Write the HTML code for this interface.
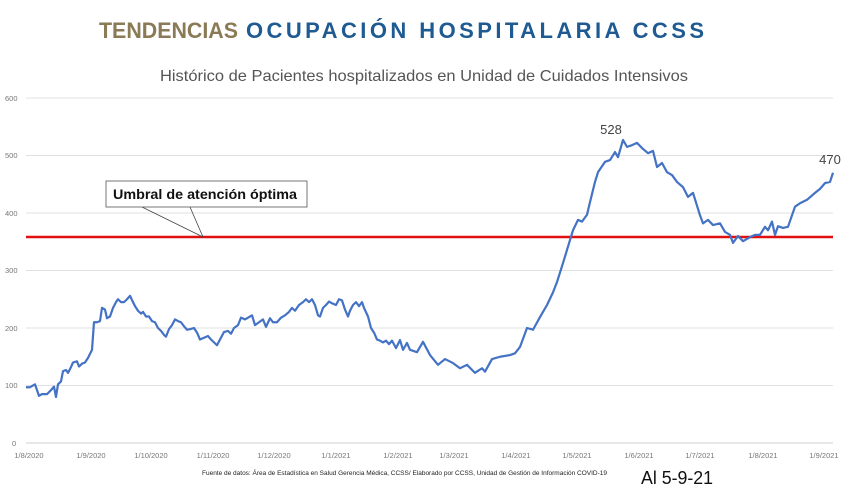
<!DOCTYPE html>
<html><head><meta charset="utf-8"><style>
html,body{margin:0;padding:0;background:#fff;}
svg{display:block;font-family:"Liberation Sans",sans-serif;}
</style></head><body>
<svg width="865" height="487" viewBox="0 0 865 487" xmlns="http://www.w3.org/2000/svg">
<rect width="865" height="487" fill="#fff"/>
<text x="99" y="38" font-size="22" font-weight="bold" fill="#8a7a55" textLength="139" lengthAdjust="spacingAndGlyphs">TENDENCIAS</text>
<text x="246" y="38" font-size="22" font-weight="bold" fill="#1f5a92" textLength="458" lengthAdjust="spacing">OCUPACIÓN HOSPITALARIA CCSS</text>
<text x="160" y="81" font-size="16" fill="#555" textLength="528" lengthAdjust="spacingAndGlyphs">Histórico de Pacientes hospitalizados en Unidad de Cuidados Intensivos</text>
<g stroke="#e0e0e0" stroke-width="1">
<line x1="26" y1="98" x2="833" y2="98"/>
<line x1="26" y1="155.5" x2="833" y2="155.5"/>
<line x1="26" y1="213" x2="833" y2="213"/>
<line x1="26" y1="270.5" x2="833" y2="270.5"/>
<line x1="26" y1="328" x2="833" y2="328"/>
<line x1="26" y1="385.5" x2="833" y2="385.5"/>
<line x1="26" y1="443" x2="833" y2="443" stroke="#d0d0d0"/>
</g>
<g font-size="7.5" fill="#777">
<text x="5" y="101">600</text><text x="5" y="158">500</text><text x="5" y="216">400</text>
<text x="5" y="273">300</text><text x="5" y="331">200</text><text x="5" y="388">100</text><text x="12" y="446">0</text>
</g>
<g font-size="7.5" fill="#777" text-anchor="middle">
<text x="29" y="458">1/8/2020</text><text x="91" y="458">1/9/2020</text><text x="151" y="458">1/10/2020</text>
<text x="213" y="458">1/11/2020</text><text x="274" y="458">1/12/2020</text><text x="336" y="458">1/1/2021</text>
<text x="398" y="458">1/2/2021</text><text x="454" y="458">1/3/2021</text><text x="516" y="458">1/4/2021</text>
<text x="577" y="458">1/5/2021</text><text x="639" y="458">1/6/2021</text><text x="700" y="458">1/7/2021</text>
<text x="763" y="458">1/8/2021</text><text x="824" y="458">1/9/2021</text>
</g>
<line x1="26" y1="237" x2="833" y2="237" stroke="#e01010" stroke-width="2.5"/>
<g transform="translate(0,443) scale(1,-0.575)">
<polyline fill="none" stroke="#4472c4" stroke-width="2.2" vector-effect="non-scaling-stroke" stroke-linejoin="round" points="26,97 30,97 35,102 39,82 42,85 47,85 51,92 54,98 56,80 58,102 61,107 63,125 66,127 68,122 71,132 73,140 77,142 79,133 82,138 85,140 88,148 90,155 92,162 94,210 97,210 100,212 102,235 105,232 107,217 110,220 113,235 116,245 118,250 121,245 124,245 127,250 130,256 133,245 135,238 138,230 141,225 143,228 146,220 149,220 152,212 155,210 158,200 161,195 164,188 166,185 169,198 172,205 175,215 178,212 181,210 184,203 187,197 190,198 194,200 197,192 200,180 204,183 208,186 211,180 214,175 217,170 220,180 224,193 228,195 231,190 234,200 238,205 241,218 245,215 248,218 252,222 255,205 259,210 263,215 266,202 270,217 273,210 277,210 281,218 285,222 289,228 292,235 295,230 299,240 303,245 306,250 309,245 312,250 315,240 318,222 320,220 323,235 326,240 329,246 332,243 336,240 339,250 342,248 345,232 348,220 350,230 353,240 356,245 359,238 362,245 364,235 368,220 371,200 374,192 377,180 380,178 383,175 386,178 389,172 392,178 396,165 400,179 403,162 407,174 410,162 417,158 423,176 430,153 438,136 445,146 453,139 460,130 467,136 475,122 482,130 485,124 492,146 500,150 510,153 515,156 520,167 527,200 533,197 540,219 547,240 553,262 557,280 563,313 570,353 573,370 578,388 582,385 587,397 590,419 595,454 598,471 605,489 610,492 615,506 618,497 623,527 627,515 632,518 637,522 642,513 648,504 653,508 657,480 662,487 667,471 672,466 677,454 683,445 688,428 693,435 700,396 703,382 708,388 713,379 720,382 725,367 730,362 733,348 738,360 743,351 750,358 755,362 760,362 765,376 768,370 772,385 775,362 778,377 783,374 788,376 795,411 800,417 807,423 815,435 820,442 825,452 830,454 833,470"/>
</g>
<text x="611" y="134" font-size="13" fill="#444" text-anchor="middle">528</text>
<text x="830" y="164" font-size="13" fill="#444" text-anchor="middle">470</text>
<line x1="142" y1="207" x2="203" y2="237" stroke="#444" stroke-width="0.8"/>
<line x1="190" y1="207" x2="203" y2="237" stroke="#444" stroke-width="0.8"/>
<rect x="106" y="181" width="201" height="26" fill="#fff" stroke="#555" stroke-width="0.8"/>
<text x="113" y="199" font-size="14" font-weight="bold" fill="#111" textLength="184" lengthAdjust="spacingAndGlyphs">Umbral de atención óptima</text>
<text x="202" y="475" font-size="6.5" fill="#222" textLength="405" lengthAdjust="spacingAndGlyphs">Fuente de datos: Área de Estadística en Salud Gerencia Médica, CCSS/ Elaborado por CCSS, Unidad de Gestión de Información COVID-19</text>
<text x="641" y="484" font-size="18" fill="#111" textLength="72" lengthAdjust="spacingAndGlyphs">Al 5-9-21</text>
</svg>
</body></html>
